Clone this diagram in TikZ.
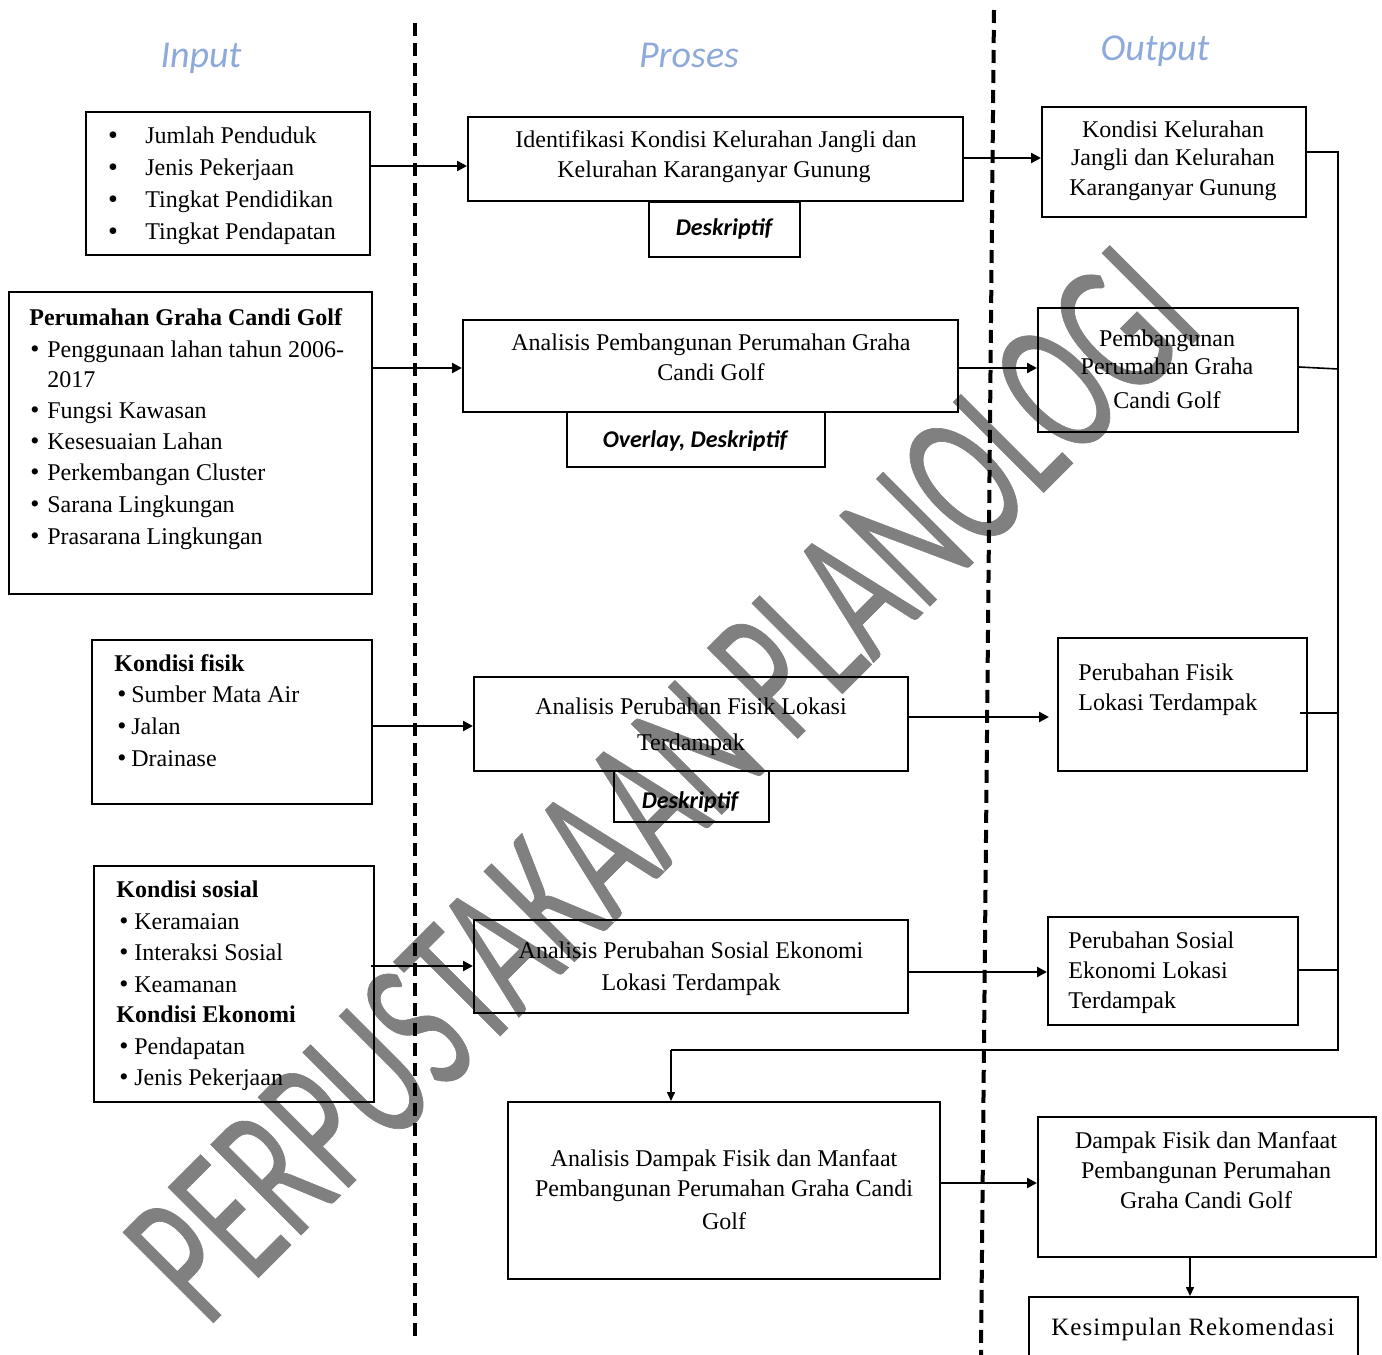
\documentclass[tikz,border=0pt]{standalone}
\usepackage{fontspec}
\setmainfont{Liberation Serif}
\newfontfamily\calib{Carlito}
\newfontfamily\wmfont[FakeBold=0.4]{Carlito}
\usetikzlibrary{arrows.meta,fit}
\definecolor{hdr}{HTML}{8EAADB}
\definecolor{wmgray}{HTML}{808080}
\begin{document}
\begin{tikzpicture}[x=0.5pt,y=-0.5pt,
  tx/.style={inner sep=0pt, font=\fontsize{12}{14}\selectfont},
  ct/.style={tx, anchor=base},
  lt/.style={tx, anchor=base west},
  bul/.style={tx, anchor=base},
  hd/.style={inner sep=0pt, anchor=base, text=hdr, font=\calib\itshape\fontsize{19}{22}\selectfont},
  mth/.style={inner sep=0pt, anchor=base, font=\calib\bfseries\itshape\fontsize{12}{14}\selectfont},
  box/.style={draw, line width=1pt, inner sep=0pt, rectangle},
  sep/.style={line width=2pt, dash pattern=on 6.5pt off 3.5pt},
  arr/.style={line width=1.2pt, -{Triangle[length=5pt,width=5pt]}},
  arrs/.style={line width=0.8pt, -{Triangle[length=4.5pt,width=4pt]}},
  fb/.style={line width=0.8pt},
  wmk/.style={inner sep=0pt, anchor=base, text=wmgray, font=\wmfont\fontsize{99.5}{100}\selectfont}
]
\useasboundingbox (0,0) rectangle (1382,1355);

% watermark
\node[wmk, rotate=45, xscale=0.62] (wm) at (707,829) {PERPUSTAKAAN PLANOLOGI};

% separators
\draw[sep] (415,23) -- (415,1337);
\draw[sep] (994,10) -- (981,1355);

% headers
\node[hd] (hin) at (201,67) {Input};
\node[hd] (hpr) at (689,67) {Proses};
\node[hd] (hout) at (1155,60) {Output};

% ---------- input boxes
\node[box, fit={(86,112) (370,255)}] (b1) {};
\node[bul, font=\fontsize{14}{14}\selectfont] (b1a) at (113,144) {•};
\node[bul, font=\fontsize{14}{14}\selectfont] (b1b) at (113,176) {•};
\node[bul, font=\fontsize{14}{14}\selectfont] (b1c) at (113,208) {•};
\node[bul, font=\fontsize{14}{14}\selectfont] (b1d) at (113,240) {•};
\node[lt] (b1at) at (145,143) {Jumlah Penduduk};
\node[lt] (b1bt) at (145,175) {Jenis Pekerjaan};
\node[lt] (b1ct) at (145,207) {Tingkat Pendidikan};
\node[lt] (b1dt) at (145,239) {Tingkat Pendapatan};

\node[box, fit={(9,292) (372,594)}] (b2) {};
\node[lt, font=\bfseries\fontsize{12}{14}\selectfont] (b2h) at (29,325) {Perumahan Graha Candi Golf};
\node[bul, font=\fontsize{13}{14}\selectfont] (b2a) at (35,357) {•};
\node[lt] (b2at) at (47,357) {Penggunaan lahan tahun 2006-};
\node[lt] (b2at2) at (47,387) {2017};
\node[bul, font=\fontsize{13}{14}\selectfont] (b2b) at (35,418) {•};
\node[lt] (b2bt) at (47,418) {Fungsi Kawasan};
\node[bul, font=\fontsize{13}{14}\selectfont] (b2c) at (35,449) {•};
\node[lt] (b2ct) at (47,449) {Kesesuaian Lahan};
\node[bul, font=\fontsize{13}{14}\selectfont] (b2d) at (35,480) {•};
\node[lt] (b2dt) at (47,480) {Perkembangan Cluster};
\node[bul, font=\fontsize{13}{14}\selectfont] (b2e) at (35,512) {•};
\node[lt] (b2et) at (47,512) {Sarana Lingkungan};
\node[bul, font=\fontsize{13}{14}\selectfont] (b2f) at (35,544) {•};
\node[lt] (b2ft) at (47,544) {Prasarana Lingkungan};

\node[box, fit={(92,640) (372,804)}] (b3) {};
\node[lt, font=\bfseries\fontsize{12}{14}\selectfont] (b3h) at (114,671) {Kondisi fisik};
\node[bul, font=\fontsize{13}{14}\selectfont] (b3a) at (122,702) {•};
\node[lt] (b3at) at (131,702) {Sumber Mata Air};
\node[bul, font=\fontsize{13}{14}\selectfont] (b3b) at (122,734) {•};
\node[lt] (b3bt) at (131,734) {Jalan};
\node[bul, font=\fontsize{13}{14}\selectfont] (b3c) at (122,766) {•};
\node[lt] (b3ct) at (131,766) {Drainase};

\node[box, fit={(94,866) (374,1102)}] (b4) {};
\node[lt, font=\bfseries\fontsize{12}{14}\selectfont] (b4h) at (116,897) {Kondisi sosial};
\node[bul, font=\fontsize{13}{14}\selectfont] (b4a) at (124,929) {•};
\node[lt] (b4at) at (134,929) {Keramaian};
\node[bul, font=\fontsize{13}{14}\selectfont] (b4b) at (124,960) {•};
\node[lt] (b4bt) at (134,960) {Interaksi Sosial};
\node[bul, font=\fontsize{13}{14}\selectfont] (b4c) at (124,992) {•};
\node[lt] (b4ct) at (134,992) {Keamanan};
\node[lt, font=\bfseries\fontsize{12}{14}\selectfont] (b4h2) at (116,1022) {Kondisi Ekonomi};
\node[bul, font=\fontsize{13}{14}\selectfont] (b4d) at (124,1054) {•};
\node[lt] (b4dt) at (134,1054) {Pendapatan};
\node[bul, font=\fontsize{13}{14}\selectfont] (b4e) at (124,1085) {•};
\node[lt] (b4et) at (134,1085) {Jenis Pekerjaan};

% ---------- process boxes
\node[box, fit={(468,117) (963,201)}] (p1) {};
\node[ct] (p1a) at (716,147) {Identifikasi Kondisi Kelurahan Jangli dan};
\node[ct] (p1b) at (714,177) {Kelurahan Karanganyar Gunung};
\node[box, fit={(649,202) (800,257)}] (d1) {};
\node[mth] (d1t) at (724,235) {Deskriptif};

\node[box, fit={(463,320) (958,412)}] (p2) {};
\node[ct] (p2a) at (711,350) {Analisis Pembangunan Perumahan Graha};
\node[ct] (p2b) at (711,380) {Candi Golf};
\node[box, fit={(567,412) (825,467)}] (d2) {};
\node[mth] (d2t) at (695,447) {Overlay, Deskriptif};

\node[box, fit={(474,677) (908,771)}] (p3) {};
\node[ct] (p3a) at (691,714) {Analisis Perubahan Fisik Lokasi};
\node[ct] (p3b) at (691,750) {Terdampak};
\node[box, fit={(614,771) (769,822)}] (d3) {};
\node[mth] (d3t) at (690,808) {Deskriptif};

\node[box, fit={(474,920) (908,1013)}] (p4) {};
\node[ct] (p4a) at (691,958) {Analisis Perubahan Sosial Ekonomi};
\node[ct] (p4b) at (691,990) {Lokasi Terdampak};

\node[box, fit={(508,1102) (940,1279)}] (p5) {};
\node[ct] (p5a) at (724,1166) {Analisis Dampak Fisik dan Manfaat};
\node[ct] (p5b) at (724,1196) {Pembangunan Perumahan Graha Candi};
\node[ct] (p5c) at (724,1229) {Golf};

% ---------- output boxes
\node[box, fit={(1042,107) (1306,217)}] (o1) {};
\node[ct] (o1a) at (1173,137) {Kondisi Kelurahan};
\node[ct] (o1b) at (1173,165) {Jangli dan Kelurahan};
\node[ct] (o1c) at (1173,195) {Karanganyar Gunung};

\node[box, fit={(1038,308) (1298,432)}] (o2) {};
\node[ct] (o2a) at (1167,346) {Pembangunan};
\node[ct] (o2b) at (1167,374) {Perumahan Graha};
\node[ct] (o2c) at (1167,408) {Candi Golf};

\node[box, fit={(1058,638) (1307,771)}] (o3) {};
\node[lt] (o3a) at (1078,680) {Perubahan Fisik};
\node[lt] (o3b) at (1078,710) {Lokasi Terdampak};

\node[box, fit={(1048,917) (1298,1025)}] (o4) {};
\node[lt] (o4a) at (1068,948) {Perubahan Sosial};
\node[lt] (o4b) at (1068,978) {Ekonomi Lokasi};
\node[lt] (o4c) at (1068,1008) {Terdampak};

\node[box, fit={(1038,1117) (1376,1257)}] (o5) {};
\node[ct] (o5a) at (1206,1148) {Dampak Fisik dan Manfaat};
\node[ct] (o5b) at (1206,1178) {Pembangunan Perumahan};
\node[ct] (o5c) at (1206,1208) {Graha Candi Golf};

\node[box, fit={(1029,1297) (1358,1366)}] (o6) {};
\node[ct, font=\fontsize{12.5}{14}\selectfont\addfontfeatures{LetterSpace=4}] (o6a) at (1193,1335) {Kesimpulan Rekomendasi};

% ---------- arrows input -> process
\draw[arr] (b1.east |- 0,166) -- (p1.west |- 0,166);
\draw[arr] (b2.east |- 0,368) -- (p2.west |- 0,368);
\draw[arr] (b3.east |- 0,726) -- (p3.west |- 0,726);
\draw[arr] ([xshift=-2pt]b4.east |- 0,966) -- (p4.west |- 0,966);

% process -> output
\draw[arr] (p1.east |- 0,158) -- (o1.west |- 0,158);
\draw[arr] (p2.east |- 0,368) -- (o2.west |- 0,368);
\draw[arr] (p3.east |- 0,717) -- ([xshift=-4pt]o3.west |- 0,717);
\draw[arr] (p4.east |- 0,972) -- (o4.west |- 0,972);
\draw[arr] (p5.east |- 0,1183) -- (o5.west |- 0,1183);
\draw[arrs] (o5.south -| 1190,0) -- (o6.north -| 1190,0);

% feedback
\coordinate (fbtop) at (1338,152);
\coordinate (fbbot) at (1338,1050);
\coordinate (fbleft) at (671,1050);
\draw[fb] (o1.east |- fbtop) -- (fbtop) -- (fbbot) -- (fbleft);
\draw[arrs] (fbleft) -- (p5.north -| fbleft);
\draw[fb] (o2.east |- 0,367) -- (fbtop |- 0,369);
\draw[fb] ([xshift=-4pt]o3.east |- 0,713) -- (fbtop |- 0,713);
\draw[fb] (o4.east |- 0,970) -- (fbtop |- 0,970);
\end{tikzpicture}
\end{document}
